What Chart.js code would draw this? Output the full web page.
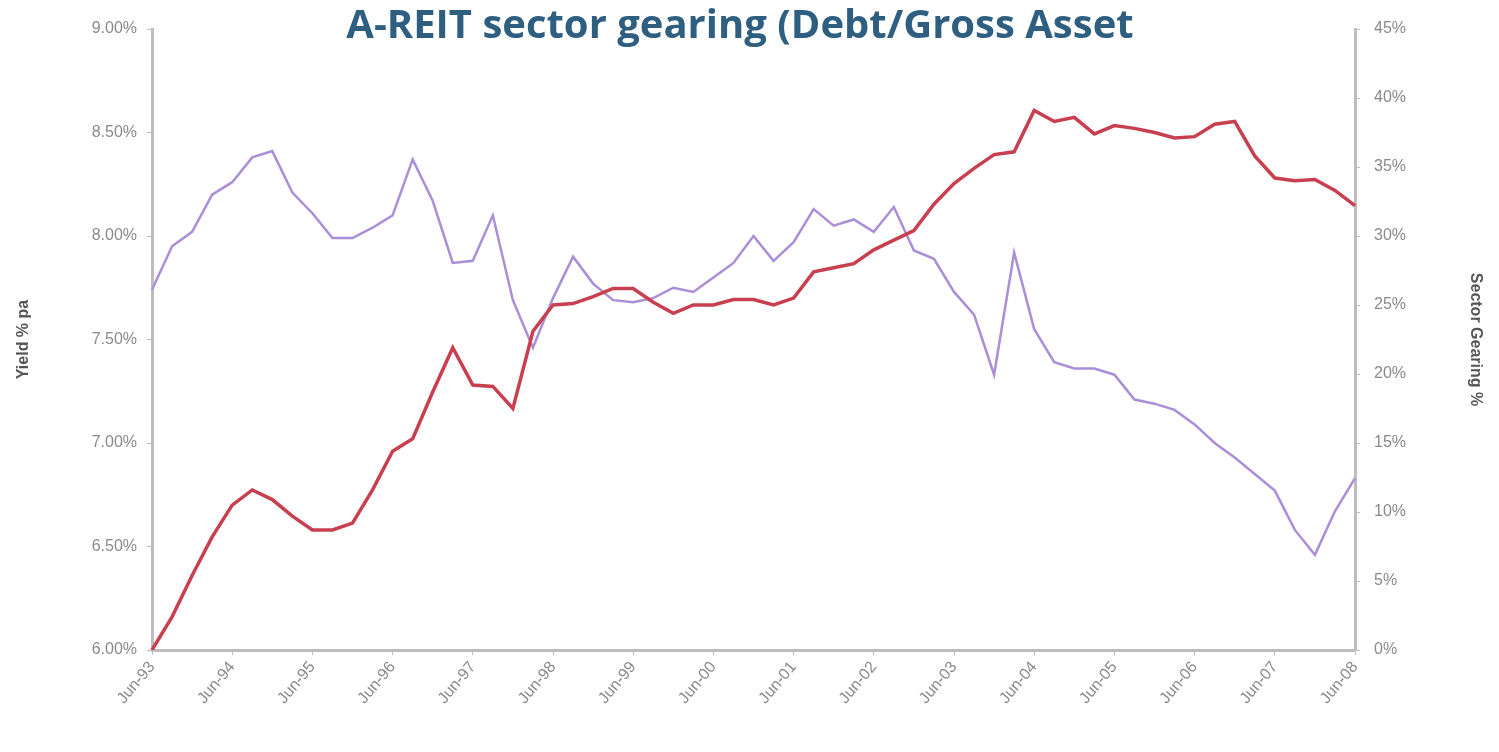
<!DOCTYPE html>
<html>
<head>
<meta charset="utf-8">
<script src="https://cdn.jsdelivr.net/npm/chart.js"></script>
<style>
  html, body { margin: 0; padding: 0; background: #fff; }
  #wrap { position: relative; width: 1499px; height: 752px; }
  #title {
    position: absolute; left: 0; width: 1480px; top: -2px;
    text-align: center;
    font-family: "Open Sans", sans-serif;
    font-weight: 700;
    font-size: 40px;
    color: #2f5f80;
    line-height: 50px;
  }
</style>
</head>
<body>
<div id="wrap">
  <canvas id="chart" width="1499" height="752"></canvas>
  <div id="title">A-REIT sector gearing (Debt/Gross Asset</div>
</div>
<script>
// quarterly points, one label shown per year
const startYear = 1993;
const tickLabels = ['Jun-93','Jun-94','Jun-95','Jun-96','Jun-97','Jun-98','Jun-99','Jun-00',
  'Jun-01','Jun-02','Jun-03','Jun-04','Jun-05','Jun-06','Jun-07','Jun-08'];
const months = ['Jun','Sep','Dec','Mar'];

// yield % (left axis)
const yieldPct = [7.74, 7.95, 8.02, 8.20, 8.26, 8.38, 8.41, 8.21, 8.11, 7.99,
  7.99, 8.04, 8.10, 8.37, 8.17, 7.87, 7.88, 8.10, 7.69, 7.46,
  7.70, 7.90, 7.77, 7.69, 7.68, 7.70, 7.75, 7.73, 7.80, 7.87,
  8.00, 7.88, 7.97, 8.13, 8.05, 8.08, 8.02, 8.14, 7.93, 7.89,
  7.73, 7.62, 7.33, 7.92, 7.55, 7.39, 7.36, 7.36, 7.33, 7.21,
  7.19, 7.16, 7.09, 7.00, 6.93, 6.85, 6.77, 6.58, 6.46, 6.67, 6.83];

// sector gearing % (right axis)
const gearingPct = [0.0, 2.4, 5.4, 8.2, 10.5, 11.6, 10.9, 9.7, 8.7, 8.7,
  9.2, 11.6, 14.4, 15.3, 18.7, 21.9, 19.2, 19.1, 17.5, 23.1,
  25.0, 25.1, 25.6, 26.2, 26.2, 25.2, 24.4, 25.0, 25.0, 25.4,
  25.4, 25.0, 25.5, 27.4, 27.7, 28.0, 29.0, 29.7, 30.4, 32.3,
  33.8, 34.9, 35.9, 36.1, 39.1, 38.3, 38.6, 37.4, 38.0, 37.8,
  37.5, 37.1, 37.2, 38.1, 38.3, 35.8, 34.2, 34.0, 34.1, 33.3, 32.2];

const categories = [];
for (let i = 0; i < gearingPct.length; i++) {
  const q = i % 4;
  const yr = startYear + Math.floor(i / 4) + (q === 3 ? 1 : 0);
  categories.push(months[q] + '-' + String(yr % 100).padStart(2, '0'));
}

const axisGrey = '#bdbdbd';
const tickFont = { family: 'Liberation Sans, Arial, sans-serif', size: 16 };
const titleFont = { family: 'Liberation Sans, Arial, sans-serif', size: 16, weight: 'bold' };

new Chart(document.getElementById('chart'), {
  type: 'line',
  data: {
    labels: categories,
    datasets: [
      {
        label: 'Sector gearing',
        data: gearingPct,
        yAxisID: 'yR',
        borderColor: '#c8404f',
        borderWidth: 3.5,
        pointRadius: 0,
        tension: 0
      },
      {
        label: 'Yield',
        data: yieldPct,
        yAxisID: 'yL',
        borderColor: '#aa8fd8',
        borderWidth: 2.5,
        pointRadius: 0,
        tension: 0
      }
    ]
  },
  options: {
    responsive: false,
    animation: false,
    layout: { padding: { top: 29, bottom: 0, left: 0, right: 0 } },
    plugins: { legend: { display: false }, tooltip: { enabled: false } },
    scales: {
      x: {
        grid: {
          drawOnChartArea: false, drawTicks: true, tickLength: 5,
          color: function(c) { return c.index % 4 === 0 ? axisGrey : 'rgba(0,0,0,0)'; }
        },
        border: { color: axisGrey, width: 3 },
        ticks: {
          autoSkip: false,
          maxRotation: 50,
          minRotation: 50,
          color: '#8a8a8a',
          font: { family: 'Liberation Sans, Arial, sans-serif', size: 16 },
          callback: function(v, i) { return i % 4 === 0 ? tickLabels[i / 4] : ''; }
        },
        afterFit: function(s) { s.height = 102; }
      },
      yL: {
        position: 'left',
        min: 6, max: 9,
        grid: { drawOnChartArea: false, tickLength: 5, color: axisGrey },
        border: { color: axisGrey, width: 3 },
        ticks: {
          stepSize: 0.5,
          color: '#8a8a8a',
          font: tickFont,
          padding: 10,
          callback: function(v) { return v.toFixed(2) + '%'; }
        },
        title: { display: true, text: 'Yield % pa', color: '#555', font: titleFont, padding: { top: 14, bottom: 0 } },
        afterFit: function(s) { s.width = 152; }
      },
      yR: {
        position: 'right',
        min: 0, max: 45,
        grid: { drawOnChartArea: false, tickLength: 5, color: axisGrey },
        border: { color: axisGrey, width: 3 },
        ticks: {
          stepSize: 5,
          color: '#8a8a8a',
          font: tickFont,
          padding: 14,
          callback: function(v) { return v + '%'; }
        },
        title: { display: true, text: 'Sector Gearing %', color: '#555', font: titleFont, padding: { top: 14, bottom: 0 } },
        afterFit: function(s) { s.width = 144; }
      }
    }
  }
});
</script>
</body>
</html>
